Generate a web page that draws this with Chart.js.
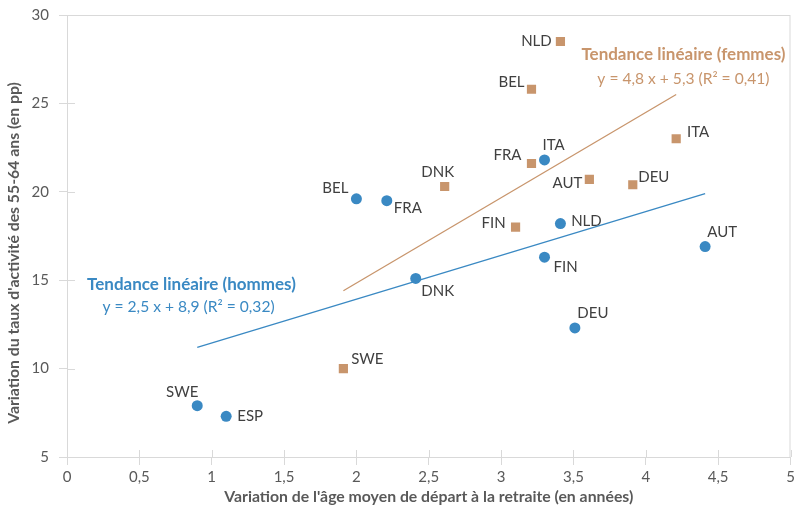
<!DOCTYPE html>
<html>
<head>
<meta charset="utf-8">
<script src="https://cdn.jsdelivr.net/npm/chart.js@4"></script>
<style>
  html, body { margin: 0; padding: 0; background: #fff; }
  #wrap { width: 797px; height: 506px; }
</style>
</head>
<body>
<div id="wrap"><canvas id="chart"></canvas></div>
<script>
// Hommes
const countriesMen = ['SWE', 'ESP', 'BEL', 'FRA', 'DNK', 'ITA', 'NLD', 'FIN', 'DEU', 'AUT'];
const ageMen = [0.90, 1.10, 2.00, 2.21, 2.41, 3.30, 3.41, 3.30, 3.51, 4.41];
const activityMen = [7.9, 7.3, 19.6, 19.5, 15.1, 21.8, 18.2, 16.3, 12.3, 16.9];

// Femmes
const countriesWomen = ['NLD', 'BEL', 'ITA', 'FRA', 'DNK', 'AUT', 'DEU', 'FIN', 'SWE'];
const ageWomen = [3.41, 3.21, 4.21, 3.21, 2.61, 3.61, 3.91, 3.10, 1.91];
const activityWomen = [28.5, 25.8, 23.0, 21.6, 20.3, 20.7, 20.4, 18.0, 10.0];

// Tendances (extrémités)
const trendMenX = [0.9, 4.41];
const trendMenY = [11.2, 19.9];
const trendWomenX = [1.91, 4.21];
const trendWomenY = [14.4, 25.5];

const xTicks = [0, 0.5, 1, 1.5, 2, 2.5, 3, 3.5, 4, 4.5, 5];
const yTicks = [5, 10, 15, 20, 25, 30];

// décalage des étiquettes (px), placement manuel comme dans l'original
const labelShiftMen = [[-15, -14], [24, 0], [-21, -11], [21, 8], [22, 13], [9, -15], [26, -2], [21, 10], [18, -15], [17, -14]];
const labelShiftWomen = [[-24, 0], [-20, -7], [22, -7], [-24, -8], [-7, -14], [-22, 4], [21, -8], [-22, -4], [24, -9]];

const BLUE = '#3A89C3';
const BROWN = '#C8956C';
const GRID = '#D9D9D9';
const TEXT = '#404040';
const AXIS_TEXT = '#595959';
const FONT = 'Lato, "Open Sans", sans-serif';

const toPoints = (xs, ys) => xs.map((x, i) => ({ x: x, y: ys[i] }));
const frNum = v => String(v).replace('.', ',');

const plotExtras = {
    id: 'plotExtras',
    beforeDatasetsDraw(chart) {
        const { ctx, chartArea: a, scales } = chart;
        ctx.save();
        ctx.strokeStyle = GRID;
        ctx.lineWidth = 1;
        ctx.strokeRect(a.left + 0.5, a.top + 0.5, a.right - a.left - 1, a.bottom - a.top);
        // demi-graduations vers l'intérieur
        ctx.beginPath();
        scales.x.ticks.forEach(t => {
            const px = Math.round(scales.x.getPixelForValue(t.value)) + 0.5;
            ctx.moveTo(px, a.bottom);
            ctx.lineTo(px, a.bottom - 7);
        });
        scales.y.ticks.forEach(t => {
            const py = Math.round(scales.y.getPixelForValue(t.value)) + 0.5;
            ctx.moveTo(a.left, py);
            ctx.lineTo(a.left + 8, py);
        });
        ctx.stroke();
        ctx.restore();
    },
    afterDatasetsDraw(chart) {
        const { ctx, scales } = chart;
        const x = scales.x, y = scales.y;
        ctx.save();
        ctx.textAlign = 'center';
        ctx.textBaseline = 'middle';

        // étiquettes des pays
        ctx.font = '15px ' + FONT;
        ctx.fillStyle = TEXT;
        countriesMen.forEach((c, i) => {
            const [dx, dy] = labelShiftMen[i];
            ctx.fillText(c, x.getPixelForValue(ageMen[i]) + dx, y.getPixelForValue(activityMen[i]) + dy);
        });
        countriesWomen.forEach((c, i) => {
            const [dx, dy] = labelShiftWomen[i];
            ctx.fillText(c, x.getPixelForValue(ageWomen[i]) + dx, y.getPixelForValue(activityWomen[i]) + dy);
        });

        // équations des tendances
        ctx.fillStyle = BROWN;
        ctx.font = 'bold 17px ' + FONT;
        ctx.fillText('Tendance linéaire (femmes)', x.getPixelForValue(4.26), y.getPixelForValue(27.74));
        ctx.font = '15.6px ' + FONT;
        ctx.fillText('y = 4,8 x + 5,3 (R² = 0,41)', x.getPixelForValue(4.26), y.getPixelForValue(26.38));

        ctx.fillStyle = BLUE;
        ctx.font = 'bold 17px ' + FONT;
        ctx.fillText('Tendance linéaire (hommes)', x.getPixelForValue(0.86), y.getPixelForValue(14.73));
        ctx.font = '15.6px ' + FONT;
        ctx.fillText('y = 2,5 x + 8,9 (R² = 0,32)', x.getPixelForValue(0.84), y.getPixelForValue(13.48));

        // titre de l'axe vertical
        ctx.fillStyle = AXIS_TEXT;
        ctx.font = 'bold 15.8px ' + FONT;
        ctx.translate(14, 253);
        ctx.rotate(-Math.PI / 2);
        ctx.fillText("Variation du taux d'activité des 55-64 ans (en pp)", 0, 0);
        ctx.restore();
    }
};

new Chart(document.getElementById('chart'), {
    type: 'scatter',
    data: {
        datasets: [
            {
                label: 'Hommes',
                data: toPoints(ageMen, activityMen),
                backgroundColor: BLUE,
                borderColor: BLUE,
                pointStyle: 'circle',
                pointRadius: 5.5,
                pointBorderWidth: 0,
                order: 0
            },
            {
                label: 'Femmes',
                data: toPoints(ageWomen, activityWomen),
                backgroundColor: BROWN,
                borderColor: BROWN,
                pointStyle: 'rect',
                pointRadius: 6.5,
                pointBorderWidth: 0,
                order: 0
            },
            {
                type: 'line',
                label: 'Tendance hommes',
                data: toPoints(trendMenX, trendMenY),
                borderColor: BLUE,
                borderWidth: 1.3,
                pointRadius: 0,
                fill: false,
                order: 1
            },
            {
                type: 'line',
                label: 'Tendance femmes',
                data: toPoints(trendWomenX, trendWomenY),
                borderColor: BROWN,
                borderWidth: 1.3,
                pointRadius: 0,
                fill: false,
                order: 1
            }
        ]
    },
    options: {
        responsive: true,
        maintainAspectRatio: false,
        animation: false,
        layout: { padding: { left: 0, right: 4, top: 15, bottom: 0 } },
        plugins: {
            legend: { display: false },
            tooltip: { enabled: false }
        },
        scales: {
            x: {
                type: 'linear',
                min: 0,
                max: 5,
                afterFit: s => { s.height = 49; s.paddingLeft = 0; s.paddingRight = 0; },
                afterBuildTicks: s => { s.ticks = xTicks.map(v => ({ value: v })); },
                ticks: {
                    color: AXIS_TEXT,
                    font: { family: FONT, size: 15 },
                    padding: 3,
                    maxRotation: 0,
                    callback: v => frNum(v)
                },
                grid: { drawOnChartArea: false, tickLength: 8, color: GRID },
                border: { color: GRID },
                title: {
                    display: true,
                    text: "Variation de l'âge moyen de départ à la retraite (en années)",
                    color: AXIS_TEXT,
                    font: { family: FONT, size: 15.8, weight: 'bold' },
                    padding: { top: 0, bottom: 0 }
                }
            },
            y: {
                type: 'linear',
                min: 5,
                max: 30,
                afterFit: s => { s.width = 67; s.paddingTop = 0; s.paddingBottom = 0; },
                afterBuildTicks: s => { s.ticks = yTicks.map(v => ({ value: v })); },
                ticks: {
                    color: AXIS_TEXT,
                    font: { family: FONT, size: 15 },
                    padding: 10
                },
                grid: { drawOnChartArea: false, tickLength: 8, color: GRID },
                border: { color: GRID }
            }
        }
    },
    plugins: [plotExtras]
});
</script>
</body>
</html>
